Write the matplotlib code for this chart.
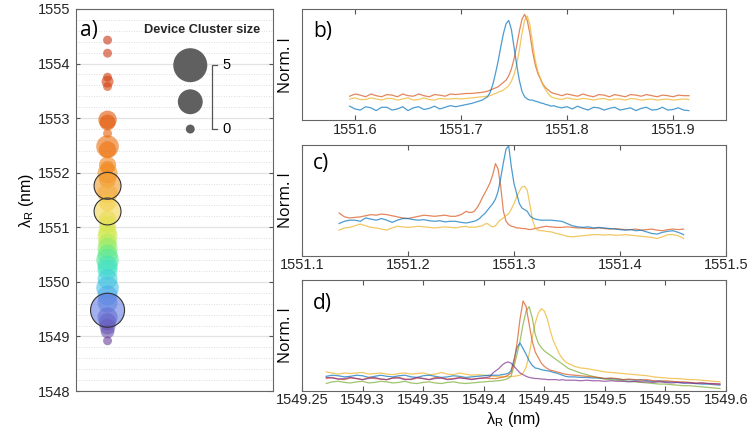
import numpy as np
import matplotlib
matplotlib.use("Agg")
import matplotlib.pyplot as plt
from matplotlib.ticker import MultipleLocator
from matplotlib.colors import LinearSegmentedColormap

plt.rcParams['font.family'] = ['Liberation Sans', 'DejaVu Sans']
plt.rcParams['mathtext.fontset'] = 'custom'
plt.rcParams['mathtext.rm'] = 'Liberation Sans'
plt.rcParams['mathtext.it'] = 'Liberation Sans'
plt.rcParams['mathtext.default'] = 'rm'

# ---- panel a: one bubble per device cluster (resonance wavelength, cluster size)
bubble_wl = [1554.43, 1554.19, 1553.75, 1553.67, 1553.58, 1552.97, 1552.92, 1552.72,
             1552.48, 1552.42, 1552.14, 1552.09, 1551.99, 1551.88, 1551.76, 1551.62,
             1551.45, 1551.29, 1551.15, 1551.05, 1550.92, 1550.83, 1550.72, 1550.62,
             1550.50, 1550.40, 1550.30, 1550.22, 1550.05, 1549.89, 1549.75, 1549.62,
             1549.48, 1549.35, 1549.27, 1549.18, 1549.09, 1548.92]
bubble_size = [0, 0, 0, 0.3, 0, 1.2, 0.8, 0,
               2, 1, 1, 0.5, 1.5, 1, 3, 1.5,
               1, 3, 1, 1, 1.2, 1.5, 1.2, 1.5,
               1.5, 2, 1.5, 1.5, 1.5, 2, 1.5, 1.5,
               5, 1.5, 1, 0.8, 0.5, 0]
highlighted_wl = [1551.76, 1551.29, 1549.48]   # clusters shown in b), c), d)
legend_sizes = [5, 2.5, 0]
legend_wl = [1553.97, 1553.30, 1552.80]

# ---- panels b-d: normalised spectra (wavelength grids and intensity)
b_x = np.concatenate([np.linspace(1551.595, 1551.725, 27),
                      np.linspace(1551.7275, 1551.7875, 25),
                      np.linspace(1551.79, 1551.915, 26)])
b_blue = [0.125, 0.10, 0.09, 0.12, 0.11, 0.085, 0.115, 0.115, 0.09, 0.10, 0.12, 0.085, 0.11, 0.12,
          0.095, 0.105, 0.125, 0.10, 0.115, 0.13, 0.12, 0.13, 0.14, 0.15, 0.165, 0.18, 0.21,
          0.25, 0.32, 0.42, 0.53, 0.66, 0.78, 0.87, 0.90, 0.82, 0.66, 0.50, 0.36, 0.26, 0.21,
          0.19, 0.18, 0.18, 0.17, 0.165, 0.155, 0.15, 0.14, 0.135, 0.125, 0.13,
          0.12, 0.11, 0.12, 0.10, 0.125, 0.105, 0.09, 0.115, 0.11, 0.09, 0.105, 0.115, 0.09,
          0.10, 0.11, 0.085, 0.105, 0.115, 0.09, 0.095, 0.115, 0.09, 0.095, 0.11, 0.09, 0.085]
b_red = [0.215, 0.235, 0.225, 0.21, 0.235, 0.22, 0.21, 0.23, 0.225, 0.21, 0.235, 0.22, 0.215, 0.235,
         0.22, 0.21, 0.23, 0.225, 0.215, 0.235, 0.23, 0.235, 0.24, 0.24, 0.245, 0.25, 0.26,
         0.27, 0.28, 0.29, 0.30, 0.32, 0.34, 0.36, 0.40, 0.46, 0.55, 0.67, 0.80, 0.91, 0.955,
         0.90, 0.78, 0.62, 0.50, 0.42, 0.37, 0.32, 0.29, 0.27, 0.25, 0.24,
         0.235, 0.22, 0.235, 0.225, 0.215, 0.235, 0.22, 0.21, 0.23, 0.225, 0.21, 0.23, 0.22,
         0.21, 0.23, 0.225, 0.215, 0.23, 0.22, 0.21, 0.225, 0.22, 0.21, 0.225, 0.22, 0.22]
b_yellow = [0.19, 0.20, 0.185, 0.185, 0.20, 0.19, 0.18, 0.195, 0.195, 0.18, 0.19, 0.20, 0.18, 0.185,
            0.20, 0.185, 0.18, 0.195, 0.19, 0.19, 0.195, 0.19, 0.195, 0.20, 0.205, 0.21, 0.215,
            0.22, 0.23, 0.24, 0.25, 0.26, 0.27, 0.29, 0.31, 0.35, 0.41, 0.50, 0.63, 0.78, 0.90,
            0.94, 0.86, 0.70, 0.54, 0.44, 0.37, 0.31, 0.27, 0.235, 0.21, 0.20,
            0.195, 0.185, 0.20, 0.19, 0.185, 0.195, 0.19, 0.18, 0.19, 0.195, 0.18, 0.19, 0.19,
            0.18, 0.195, 0.19, 0.18, 0.185, 0.19, 0.18, 0.185, 0.19, 0.18, 0.185, 0.19, 0.185]

c_x = np.concatenate([np.linspace(1551.135, 1551.255, 25),
                      np.linspace(1551.2575, 1551.3275, 29),
                      np.linspace(1551.33, 1551.46, 27)])
c_blue = [0.29, 0.31, 0.32, 0.32, 0.31, 0.34, 0.33, 0.32, 0.335, 0.32, 0.30, 0.32, 0.335,
          0.335, 0.325, 0.32, 0.325, 0.315, 0.31, 0.315, 0.305, 0.31, 0.31, 0.30, 0.295,
          0.30, 0.305, 0.31, 0.32, 0.335, 0.36, 0.38, 0.41, 0.44, 0.47, 0.51, 0.58, 0.70, 0.84,
          0.96, 0.99, 0.80, 0.65, 0.56, 0.47, 0.43, 0.415, 0.40, 0.36, 0.34, 0.33, 0.325, 0.32, 0.32,
          0.32, 0.32, 0.315, 0.31, 0.29, 0.27, 0.26, 0.255, 0.26, 0.25, 0.255, 0.25, 0.245, 0.24,
          0.235, 0.23, 0.235, 0.225, 0.23, 0.215, 0.20, 0.195, 0.21, 0.22, 0.225, 0.21, 0.19]
c_red = [0.385, 0.35, 0.34, 0.345, 0.35, 0.36, 0.37, 0.365, 0.375, 0.37, 0.36, 0.35, 0.34,
         0.335, 0.345, 0.355, 0.365, 0.36, 0.355, 0.36, 0.365, 0.355, 0.355, 0.37, 0.40,
         0.39, 0.39, 0.40, 0.43, 0.47, 0.52, 0.565, 0.61, 0.66, 0.73, 0.83, 0.78, 0.62, 0.40,
         0.31, 0.28, 0.265, 0.26, 0.25, 0.25, 0.245, 0.245, 0.24, 0.235, 0.24, 0.245, 0.25, 0.255, 0.26,
         0.265, 0.26, 0.255, 0.255, 0.26, 0.255, 0.25, 0.25, 0.245, 0.245, 0.25, 0.245, 0.24, 0.245,
         0.24, 0.235, 0.235, 0.24, 0.23, 0.235, 0.24, 0.23, 0.225, 0.235, 0.24, 0.235, 0.24]
c_yellow = [0.23, 0.25, 0.255, 0.27, 0.285, 0.27, 0.255, 0.25, 0.24, 0.23, 0.25, 0.265, 0.26,
            0.255, 0.26, 0.265, 0.26, 0.255, 0.25, 0.255, 0.26, 0.255, 0.25, 0.26, 0.265,
            0.255, 0.26, 0.255, 0.26, 0.265, 0.27, 0.285, 0.29, 0.27, 0.26, 0.27, 0.30, 0.325, 0.34,
            0.36, 0.38, 0.42, 0.47, 0.53, 0.58, 0.62, 0.625, 0.59, 0.46, 0.32, 0.25, 0.23, 0.225, 0.225,
            0.22, 0.215, 0.20, 0.19, 0.175, 0.17, 0.175, 0.18, 0.185, 0.19, 0.19, 0.185, 0.19, 0.185,
            0.185, 0.19, 0.185, 0.18, 0.175, 0.17, 0.165, 0.155, 0.17, 0.19, 0.19, 0.18, 0.155]

d_x = np.concatenate([np.linspace(1549.27, 1549.405, 28),
                      np.linspace(1549.4075, 1549.4675, 25),
                      np.linspace(1549.47, 1549.595, 26)])
d_yellow = [0.17, 0.16, 0.15, 0.16, 0.155, 0.16, 0.165, 0.15, 0.155, 0.16, 0.15, 0.145, 0.155, 0.16,
            0.15, 0.155, 0.16, 0.145, 0.15, 0.165, 0.15, 0.145, 0.16, 0.15, 0.14, 0.145, 0.14, 0.135,
            0.13, 0.13, 0.125, 0.13, 0.13, 0.125, 0.13, 0.13, 0.135, 0.14, 0.16, 0.21, 0.33,
            0.48, 0.61, 0.70, 0.74, 0.72, 0.65, 0.54, 0.45, 0.39, 0.33, 0.29, 0.26,
            0.245, 0.22, 0.205, 0.20, 0.19, 0.18, 0.17, 0.165, 0.16, 0.155, 0.15, 0.145, 0.14,
            0.135, 0.125, 0.12, 0.115, 0.11, 0.11, 0.105, 0.10, 0.10, 0.095, 0.09, 0.085, 0.08]
d_red = [0.11, 0.12, 0.105, 0.10, 0.115, 0.11, 0.10, 0.12, 0.11, 0.105, 0.10, 0.115, 0.12, 0.105,
         0.10, 0.115, 0.11, 0.10, 0.12, 0.115, 0.105, 0.11, 0.12, 0.11, 0.105, 0.11, 0.115, 0.11,
         0.11, 0.11, 0.115, 0.12, 0.125, 0.14, 0.16, 0.26, 0.43, 0.65, 0.81, 0.76, 0.60,
         0.45, 0.35, 0.30, 0.25, 0.22, 0.20, 0.185, 0.18, 0.17, 0.165, 0.155, 0.15,
         0.145, 0.14, 0.135, 0.13, 0.125, 0.12, 0.11, 0.115, 0.11, 0.10, 0.105, 0.10, 0.095,
         0.10, 0.09, 0.085, 0.09, 0.085, 0.08, 0.08, 0.075, 0.07, 0.07, 0.065, 0.06, 0.06]
d_green = [0.065, 0.08, 0.085, 0.075, 0.07, 0.08, 0.085, 0.07, 0.075, 0.085, 0.08, 0.07, 0.075, 0.085,
           0.07, 0.065, 0.075, 0.08, 0.07, 0.065, 0.075, 0.08, 0.07, 0.065, 0.07, 0.075, 0.08, 0.085,
           0.085, 0.09, 0.09, 0.095, 0.10, 0.11, 0.13, 0.22, 0.33, 0.45, 0.60, 0.72, 0.76,
           0.66, 0.51, 0.43, 0.39, 0.36, 0.34, 0.32, 0.30, 0.28, 0.26, 0.24, 0.22,
           0.20, 0.18, 0.16, 0.145, 0.13, 0.115, 0.105, 0.10, 0.095, 0.09, 0.085, 0.08, 0.075,
           0.07, 0.065, 0.06, 0.06, 0.055, 0.05, 0.045, 0.045, 0.04, 0.035, 0.03, 0.025, 0.02]
d_blue = [0.13, 0.14, 0.135, 0.125, 0.13, 0.14, 0.135, 0.12, 0.13, 0.14, 0.13, 0.125, 0.135, 0.14,
          0.125, 0.12, 0.135, 0.14, 0.13, 0.12, 0.125, 0.135, 0.13, 0.12, 0.125, 0.13, 0.135, 0.14,
          0.14, 0.14, 0.14, 0.145, 0.15, 0.155, 0.18, 0.28, 0.39, 0.43, 0.38, 0.33, 0.27,
          0.23, 0.205, 0.20, 0.19, 0.185, 0.18, 0.175, 0.165, 0.16, 0.15, 0.14, 0.13,
          0.125, 0.125, 0.12, 0.12, 0.115, 0.115, 0.11, 0.11, 0.105, 0.10, 0.10, 0.095, 0.10,
          0.09, 0.085, 0.09, 0.08, 0.08, 0.075, 0.07, 0.07, 0.065, 0.06, 0.06, 0.055, 0.05]
d_purple = [0.12, 0.115, 0.105, 0.11, 0.12, 0.11, 0.10, 0.11, 0.12, 0.105, 0.10, 0.115, 0.115, 0.10,
            0.105, 0.12, 0.11, 0.10, 0.11, 0.115, 0.10, 0.105, 0.115, 0.11, 0.10, 0.11, 0.115, 0.125,
            0.16, 0.18, 0.20, 0.23, 0.25, 0.26, 0.25, 0.22, 0.19, 0.16, 0.145, 0.13, 0.12,
            0.115, 0.11, 0.11, 0.105, 0.105, 0.10, 0.10, 0.10, 0.10, 0.095, 0.10, 0.095,
            0.095, 0.095, 0.09, 0.095, 0.09, 0.09, 0.085, 0.09, 0.085, 0.085, 0.08, 0.085, 0.08,
            0.08, 0.075, 0.08, 0.075, 0.07, 0.075, 0.07, 0.07, 0.065, 0.07, 0.065, 0.065, 0.06]

ML_BLUE = (0.0, 0.447, 0.741)
ML_RED = (0.85, 0.325, 0.098)
ML_YELLOW = (0.929, 0.694, 0.125)
ML_PURPLE = (0.494, 0.184, 0.556)
ML_GREEN = (0.466, 0.674, 0.188)

LABEL_FONT = ['Open Sans', 'DejaVu Sans']

# colour scale of the bubble column (wavelength -> colour)
col_wl = [1548.9, 1549.45, 1549.8, 1550.2, 1550.5, 1550.8, 1551.3, 1551.8, 1552.4, 1553.0, 1553.7, 1554.5]
col_rgb = [(0.41, 0.25, 0.59), (0.40, 0.48, 0.88), (0.29, 0.71, 0.92), (0.25, 0.88, 0.80),
           (0.41, 0.92, 0.51), (0.80, 0.92, 0.31), (0.96, 0.84, 0.33), (0.95, 0.59, 0.17),
           (0.93, 0.45, 0.05), (0.88, 0.33, 0.02), (0.82, 0.25, 0.06), (0.78, 0.20, 0.08)]


def size_to_area(k):
    # marker radius in px grows so that area is linear in cluster size
    r_px = np.sqrt(20 + 53.8 * np.asarray(k, dtype=float))
    return (2 * r_px * 0.72) ** 2


fig = plt.figure(figsize=(7.49, 4.45), dpi=100)

# ---------------- a) bubble column
ax_a = fig.add_axes([0.1015, 0.1213, 0.263, 0.8585])
ax_a.set_xlim(0, 1)
ax_a.set_ylim(1548, 1555)
ax_a.yaxis.set_major_locator(MultipleLocator(1))
ax_a.yaxis.set_minor_locator(MultipleLocator(0.2))
ax_a.grid(True, which='major', axis='y', color='#e3e3e3', lw=0.9, ls='-')
ax_a.grid(True, which='minor', axis='y', color='#d2d2d2', lw=0.6, ls=(0, (1, 2)))
ax_a.set_axisbelow(True)
ax_a.set_xticks([])
ax_a.tick_params(axis='y', which='both', direction='in', right=True, length=0, labelsize=10.5,
                 pad=4, colors='#262626')
ax_a.tick_params(axis='y', which='major', length=3, color='#555555')
for s in ax_a.spines.values():
    s.set_color('#666666')
    s.set_linewidth(0.8)

span = (np.array(col_wl) - col_wl[0]) / (col_wl[-1] - col_wl[0])
cmap = LinearSegmentedColormap.from_list('cluster', list(zip(span, col_rgb)))
cval = (np.array(bubble_wl) - col_wl[0]) / (col_wl[-1] - col_wl[0])
ax_a.scatter(np.full(len(bubble_wl), 0.16), bubble_wl, s=size_to_area(bubble_size),
             c=cmap(cval), alpha=0.6, edgecolors='none', zorder=3)
hl_size = [bubble_size[bubble_wl.index(w)] for w in highlighted_wl]
ax_a.scatter(np.full(len(highlighted_wl), 0.16), highlighted_wl, s=size_to_area(hl_size),
             facecolors='none', edgecolors='#333333', linewidths=0.8, zorder=4)

ax_a.scatter(np.full(len(legend_sizes), 0.58), legend_wl, s=size_to_area(legend_sizes),
             color='#606060', edgecolors='none', zorder=4)
ax_a.plot([0.716, 0.689, 0.689, 0.716], [legend_wl[0], legend_wl[0], legend_wl[-1], legend_wl[-1]],
          color='#555555', lw=0.9, zorder=4)
ax_a.text(0.745, legend_wl[0], str(legend_sizes[0]), va='center', ha='left', fontsize=10.5)
ax_a.text(0.745, legend_wl[-1], str(legend_sizes[-1]), va='center', ha='left', fontsize=10.5)
ax_a.text(0.64, 0.945, 'Device Cluster size', transform=ax_a.transAxes, ha='center', va='center',
          fontsize=9.2, fontweight='bold', color='#262626')
ax_a.text(0.02, 0.945, 'a)', transform=ax_a.transAxes, ha='left', va='center', fontsize=15,
          family=LABEL_FONT)
ax_a.set_ylabel(r'$\lambda_{\rm R}$ (nm)', fontsize=11.5, labelpad=1)

# ---------------- b), c), d) spectra
panels = [
    ([0.4032, 0.7303, 0.5661, 0.2487], b_x, [(b_red, ML_RED), (b_yellow, ML_YELLOW), (b_blue, ML_BLUE)],
     (1551.55, 1551.95), [1551.6, 1551.7, 1551.8, 1551.9], 'b)', 0.80),
    ([0.4032, 0.4254, 0.5661, 0.2494], c_x, [(c_red, ML_RED), (c_yellow, ML_YELLOW), (c_blue, ML_BLUE)],
     (1551.1, 1551.5), [1551.1, 1551.2, 1551.3, 1551.4, 1551.5], 'c)', 0.83),
    ([0.4032, 0.1220, 0.5661, 0.2488], d_x,
     [(d_yellow, ML_YELLOW), (d_green, ML_GREEN), (d_blue, ML_BLUE), (d_red, ML_RED), (d_purple, ML_PURPLE)],
     (1549.25, 1549.6), [1549.25, 1549.3, 1549.35, 1549.4, 1549.45, 1549.5, 1549.55, 1549.6], 'd)', 0.79),
]

for rect, xs, curves, xlim, ticks, letter, ly in panels:
    ax = fig.add_axes(rect)
    for ys, col in curves:
        ax.plot(xs, ys, color=col, lw=0.9, alpha=0.7)
    ax.set_xlim(*xlim)
    ax.set_ylim(0, 1.0)
    ax.set_xticks(ticks)
    ax.set_xticklabels([('%g' % t) for t in ticks])
    ax.set_yticks([])
    ax.tick_params(axis='x', direction='in', top=True, length=3.5, width=0.8, color='#555555',
                   labelsize=10.5, pad=2, labelcolor='#262626')
    for s in ax.spines.values():
        s.set_color('#666666')
        s.set_linewidth(0.8)
    ax.set_ylabel('Norm. I', fontsize=11.5, family=LABEL_FONT, labelpad=6)
    ax.text(0.026, ly, letter, transform=ax.transAxes, ha='left', va='center', fontsize=15,
            family=LABEL_FONT)
    last_ax = ax

last_ax.set_xlabel(r'$\lambda_{\rm R}$ (nm)', fontsize=11.5, labelpad=2)

fig.savefig('out.png', dpi=100)
